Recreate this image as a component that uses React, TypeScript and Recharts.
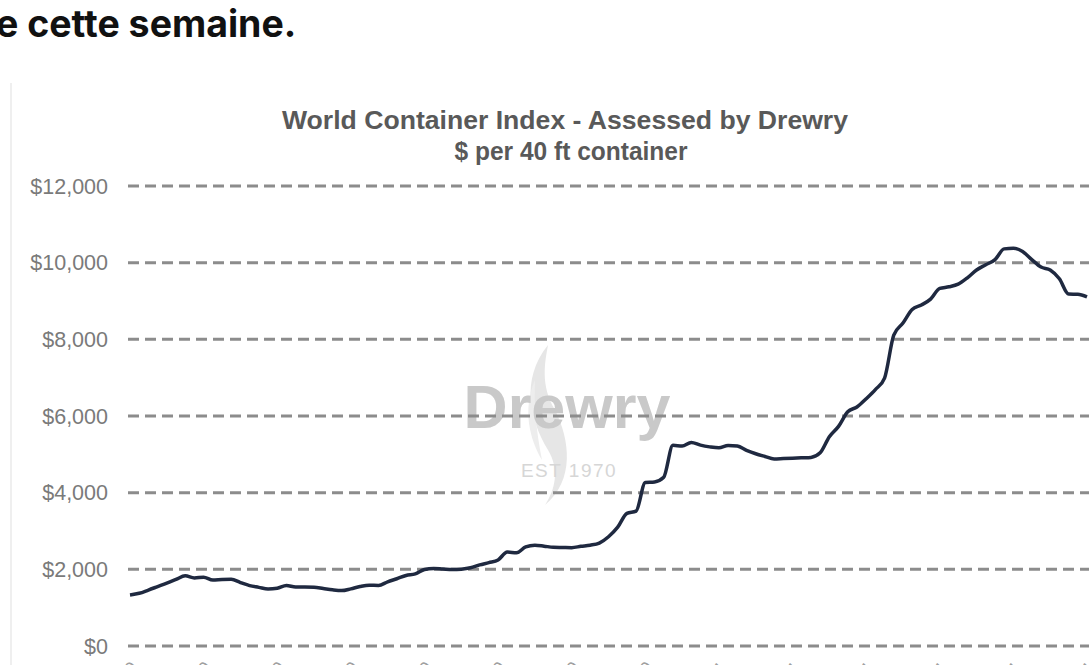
import React from "react";
import { LineChart, Line, XAxis, YAxis, CartesianGrid } from "recharts";

// World Container Index, $ per 40ft, weekly readings
const wciValues = [
  1330, 1375, 1460, 1550, 1640, 1735, 1830, 1775, 1795, 1720,
  1735, 1740, 1655, 1575, 1530, 1485, 1505, 1580, 1540, 1540,
  1535, 1500, 1465, 1445, 1490, 1550, 1585, 1580, 1675, 1755,
  1840, 1880, 1995, 2025, 2010, 1995, 2005, 2040, 2115, 2175,
  2245, 2450, 2430, 2585, 2630, 2605, 2575, 2570, 2565, 2600,
  2630, 2685, 2850, 3100, 3460, 3520, 4265, 4280, 4400, 5235,
  5215, 5310, 5240, 5195, 5170, 5230, 5215, 5105, 5015, 4945,
  4880, 4890, 4900, 4910, 4920, 5040, 5460, 5730, 6110, 6235,
  6450, 6690, 6990, 8110, 8425, 8780, 8895, 9050, 9330, 9370,
  9440, 9605, 9810, 9945, 10080, 10360, 10377, 10290, 10080, 9885,
  9810, 9580, 9180, 9175, 9110,
];

const firstWeek = "2019-11-07";
const monthNames = ["Jan", "Feb", "Mar", "Apr", "May", "Jun", "Jul", "Aug", "Sep", "Oct", "Nov", "Dec"];
const yTicks = [0, 2000, 4000, 6000, 8000, 10000, 12000];

const chartTitle = "World Container Index - Assessed by Drewry";
const chartSubtitle = "$ per 40 ft container";

function weekLabel(i: number) {
  const d = new Date(firstWeek + "T00:00:00Z");
  d.setUTCDate(d.getUTCDate() + i * 7);
  const dd = String(d.getUTCDate()).padStart(2, "0");
  return `${dd}-${monthNames[d.getUTCMonth()]}-${String(d.getUTCFullYear()).slice(2)}`;
}

const data = wciValues.map((v, i) => ({ week: weekLabel(i), wci: v }));

const money = (v: number) => `$${v.toLocaleString("en-US")}`;

const arial = "'Liberation Sans', Arial, sans-serif";

function Backdrop() {
  return (
    <svg width={1089} height={665} style={{ position: "absolute", left: 0, top: 0 }}>
      {/* Drewry watermark */}
      <path d="M548 345 C 520 380, 530 420, 548 450 C 560 470, 555 490, 545 505 C 575 480, 570 440, 555 410 C 540 385, 545 362, 548 345 Z" fill="#e6e6e6" />
      <path d="M535 380 C 522 410, 530 440, 542 460 C 536 430, 534 405, 535 380 Z" fill="#ededed" />
      <text x={567} y={428} textAnchor="middle" fontFamily={arial} fontWeight="bold" fontSize={61} fill="#c9c9c9">
        Drewry
      </text>
      <text x={569} y={477} textAnchor="middle" fontFamily={arial} fontSize={19} letterSpacing={1.5} fill="#d6d6d6">
        EST 1970
      </text>
      {/* chart title */}
      <text x={565} y={129} textAnchor="middle" fontFamily={arial} fontWeight="bold" fontSize={25} fill="#595959" textLength={566} lengthAdjust="spacingAndGlyphs">
        {chartTitle}
      </text>
      <text x={571} y={160} textAnchor="middle" fontFamily={arial} fontWeight="bold" fontSize={25} fill="#595959" textLength={233} lengthAdjust="spacingAndGlyphs">
        {chartSubtitle}
      </text>
    </svg>
  );
}

export default function App() {
  return (
    <div style={{ position: "absolute", left: 0, top: 0, width: 1089, height: 665, overflow: "hidden", background: "#fff" }}>
      <div
        style={{
          position: "absolute",
          left: -4,
          top: 6,
          fontFamily: "Inter, 'Noto Sans', sans-serif",
          fontWeight: 700,
          fontSize: 37.5,
          lineHeight: "36px",
          color: "#111",
          whiteSpace: "nowrap",
        }}
      >
        e cette semaine.
      </div>

      <div style={{ position: "absolute", left: 10, top: 83, width: 0, height: 600, borderLeft: "2px solid #efefef" }} />

      <Backdrop />

      <div style={{ position: "absolute", left: 0, top: 0 }}>
        <LineChart width={1095} height={734} data={data} margin={{ top: 186, right: 0, bottom: 14, left: 0 }}>
          <CartesianGrid vertical={false} stroke="#8c8c8c" strokeWidth={3} strokeDasharray="11 6" />
          <XAxis
            dataKey="week"
            interval={7}
            padding={{ left: 2, right: 8 }}
            axisLine={false}
            tickLine={false}
            tickSize={0}
            tickMargin={14}
            angle={-45}
            textAnchor="end"
            height={74}
            tick={{ fontSize: 18, fill: "#a0a0a0", fontFamily: arial }}
          />
          <YAxis
            domain={[0, 12000]}
            ticks={yTicks}
            width={128}
            axisLine={false}
            tickLine={false}
            tickSize={0}
            tickMargin={20}
            tickFormatter={money}
            tick={{ fontSize: 21.5, fill: "#7a7a7a", fontFamily: arial }}
          />
          <Line
            type="monotone"
            dataKey="wci"
            stroke="#1f2940"
            strokeWidth={3.5}
            dot={false}
            isAnimationActive={false}
          />
        </LineChart>
      </div>
    </div>
  );
}
